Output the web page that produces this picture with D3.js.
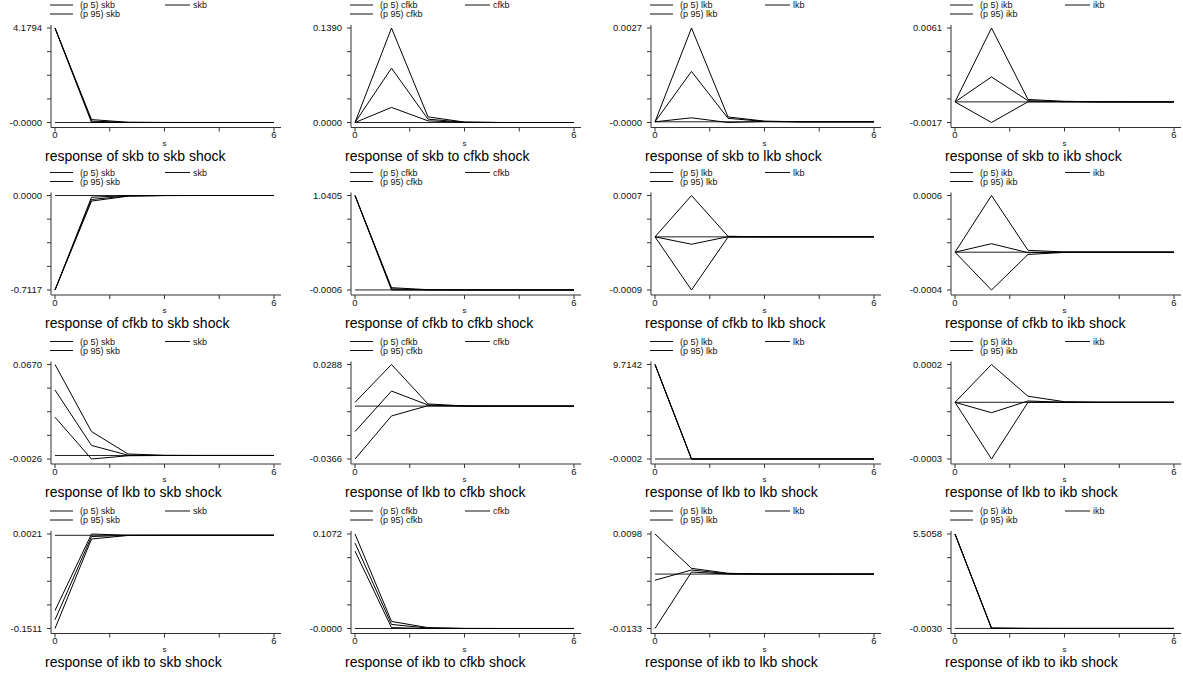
<!DOCTYPE html>
<html>
<head>
<meta charset="utf-8">
<script src="https://cdn.jsdelivr.net/npm/d3@7"></script>
<style>
  html, body { margin: 0; padding: 0; background: #fff; }
  svg { display: block; font-family: "Liberation Sans", Arial, sans-serif; }
</style>
</head>
<body>
<svg id="chart" width="1183" height="675"></svg>
<script>
// Impulse-response grid: rows = response variable, columns = impulse variable.
const steps = [0, 1, 2, 3, 4, 5, 6];
const variables = ["skb", "cfkb", "lkb", "ikb"];
const xTicks = [0, 1.5, 3, 4.5, 6];
const xTickLabels = ["0", "", "", "", "6"];

// Each array: one row per impulse (skb, cfkb, lkb, ikb), values for steps 0..6.
const p5_skb = [
  [4.1794, 0.005, -0.00001, 0, 0, 0, 0],
  [0, 0.0222, 0.0024, 0.0002, 0, 0, 0],
  [0, 0.000115, -0.00002, 0.00001, 0, 0, 0],
  [0, -0.0017, 0.00001, 0.00001, 0, 0, 0]
];
const irf_skb = [
  [4.1794, 0.06, 0.004, 0.0003, 0, 0, 0],
  [0, 0.0799, 0.0049, 0.0003, 0, 0, 0],
  [0, 0.00145, 0.0001, 0.00001, 0, 0, 0],
  [0, 0.00206, 0.0001, 0.00002, 0, 0, 0]
];
const p95_skb = [
  [4.1794, 0.13, 0.01, 0.0008, 0.0001, 0, 0],
  [0, 0.1390, 0.0083, 0.0006, 0, 0, 0],
  [0, 0.0027, 0.00014, 0.00002, 0, 0, 0],
  [0, 0.0061, 0.0002, 0.00005, 0.00001, 0, 0]
];

const p5_cfkb = [
  [-0.7117, -0.042, -0.005, -0.0005, 0, 0, 0],
  [1.0405, -0.0006, -0.0001, 0, 0, 0, 0],
  [0, -0.0009, -0.000005, 0, 0, 0, 0],
  [0, -0.0004, -0.000024, -0.000002, 0, 0, 0]
];
const irf_cfkb = [
  [-0.7117, -0.03, -0.003, -0.0003, 0, 0, 0],
  [1.0405, 0.012, 0.001, 0.0001, 0, 0, 0],
  [0, -0.000125, 0.000002, 0, 0, 0, 0],
  [0, 0.00009, -0.000005, 0, 0, 0, 0]
];
const p95_cfkb = [
  [-0.7117, -0.013, -0.001, -0.0001, 0, 0, 0],
  [1.0405, 0.025, 0.003, 0.0003, 0, 0, 0],
  [0, 0.0007, 0.00001, 0, 0, 0, 0],
  [0, 0.0006, 0.00002, 0.000002, 0, 0, 0]
];

const p5_lkb = [
  [0.0282, -0.0026, -0.0002, 0, 0, 0, 0],
  [-0.0366, -0.0068, 0.0003, 0, 0, 0, 0],
  [9.7142, -0.0002, 0, 0, 0, 0, 0],
  [0, -0.0003, 0, 0, 0, 0, 0]
];
const irf_lkb = [
  [0.0482, 0.0074, 0.0002, 0, 0, 0, 0],
  [-0.0176, 0.0104, 0.0008, 0.0001, 0, 0, 0],
  [9.7142, 0.0001, 0, 0, 0, 0, 0],
  [0, -0.000055, 0.000007, 0, 0, 0, 0]
];
const p95_lkb = [
  [0.0670, 0.0176, 0.0011, 0.0001, 0, 0, 0],
  [0.0026, 0.0288, 0.0015, 0.0001, 0, 0, 0],
  [9.7142, 0.0004, 0.00001, 0, 0, 0, 0],
  [0, 0.0002, 0.000032, 0.000003, 0, 0, 0]
];

const p5_ikb = [
  [-0.1511, -0.006, -0.0003, 0, 0, 0, 0],
  [0.0878, 0.001, -0.00001, 0, 0, 0, 0],
  [-0.0133, 0.0005, 0, 0, 0, 0, 0],
  [5.5058, -0.003, -0.0001, 0, 0, 0, 0]
];
const irf_ikb = [
  [-0.137, -0.002, -0.0001, 0, 0, 0, 0],
  [0.097, 0.0046, 0.0005, 0, 0, 0, 0],
  [-0.0015, 0.001, 0.0001, 0, 0, 0, 0],
  [5.5058, 0.01, 0.001, 0, 0, 0, 0]
];
const p95_ikb = [
  [-0.122, 0.0021, 0.0001, 0, 0, 0, 0],
  [0.1072, 0.008, 0.001, 0.0001, 0, 0, 0],
  [0.0098, 0.0014, 0.0002, 0, 0, 0, 0],
  [5.5058, 0.03, 0.002, 0, 0, 0, 0]
];

const lowerBands = { skb: p5_skb, cfkb: p5_cfkb, lkb: p5_lkb, ikb: p5_ikb };
const responses  = { skb: irf_skb, cfkb: irf_cfkb, lkb: irf_lkb, ikb: irf_ikb };
const upperBands = { skb: p95_skb, cfkb: p95_cfkb, lkb: p95_lkb, ikb: p95_ikb };

// Layout
const svg = d3.select("#chart");
const colWidth = 300;
const rowTops = [28, 195.5, 364.5, 534];
const plotLeft = 55, plotRight = 274, plotH = 94.5;
const axisX = 51, axisRight = 281;

const fmt = v => v.toFixed(4);

variables.forEach((resp, r) => {
  variables.forEach((imp, c) => {
    const ox = c * colWidth;
    const top = rowTops[r];
    const bottom = top + plotH;
    const axisY = bottom + 5;
    const g = svg.append("g");

    const lo = lowerBands[resp][c];
    const mid = responses[resp][c];
    const hi = upperBands[resp][c];

    const ext = d3.extent([...lo, ...mid, ...hi, 0]);
    const y = d3.scaleLinear().domain(ext).range([bottom, top]);
    const x = d3.scaleLinear().domain([0, 6]).range([ox + plotLeft, ox + plotRight]);

    // Legend
    const legY1 = top - 23, legY2 = top - 14;
    const legend = [
      { lx: ox + 50, ly: legY1, label: "(p 5) " + imp },
      { lx: ox + 165, ly: legY1, label: imp, wide: true },
      { lx: ox + 50, ly: legY2, label: "(p 95) " + imp }
    ];
    legend.forEach(d => {
      g.append("line")
        .attr("x1", d.lx).attr("x2", d.lx + (d.wide ? 25 : 23))
        .attr("y1", d.ly).attr("y2", d.ly)
        .attr("stroke", "#111").attr("stroke-width", 1);
      g.append("text")
        .attr("x", d.lx + (d.wide ? 28 : 30)).attr("y", d.ly + 3.3)
        .attr("font-size", 9).attr("fill", "#111")
        .text(d.label);
    });

    // Y axis
    const yTicks = d3.range(5).map(i => ext[0] + (ext[1] - ext[0]) * i / 4);
    g.append("line")
      .attr("x1", ox + axisX).attr("x2", ox + axisX)
      .attr("y1", top - 3).attr("y2", axisY)
      .attr("stroke", "#333").attr("stroke-width", 1);
    yTicks.forEach((t, i) => {
      g.append("line")
        .attr("x1", ox + axisX - 4).attr("x2", ox + axisX)
        .attr("y1", y(t)).attr("y2", y(t))
        .attr("stroke", "#333").attr("stroke-width", 1);
      if (i === 0 || i === 4) {
        g.append("text")
          .attr("x", ox + 42).attr("y", y(t) + 3.4)
          .attr("text-anchor", "end")
          .attr("font-size", 9.5).attr("fill", "#111")
          .text(fmt(t));
      }
    });

    // X axis
    g.append("line")
      .attr("x1", ox + axisX).attr("x2", ox + axisRight)
      .attr("y1", axisY).attr("y2", axisY)
      .attr("stroke", "#333").attr("stroke-width", 1);
    xTicks.forEach((t, i) => {
      g.append("line")
        .attr("x1", x(t)).attr("x2", x(t))
        .attr("y1", axisY).attr("y2", axisY + 4)
        .attr("stroke", "#333").attr("stroke-width", 1);
      if (xTickLabels[i]) {
        g.append("text")
          .attr("x", x(t)).attr("y", axisY + 10.5)
          .attr("text-anchor", "middle")
          .attr("font-size", 9.5).attr("fill", "#111")
          .text(xTickLabels[i]);
      }
    });
    g.append("text")
      .attr("x", x(3)).attr("y", axisY + 18)
      .attr("text-anchor", "middle")
      .attr("font-size", 8).attr("fill", "#111")
      .text("s");

    // Zero reference line
    g.append("line")
      .attr("x1", x(0)).attr("x2", x(6))
      .attr("y1", y(0)).attr("y2", y(0))
      .attr("stroke", "#222").attr("stroke-width", 1);

    // Response and percentile bands
    const line = d3.line().x((d, i) => x(steps[i])).y(d => y(d));
    [lo, mid, hi].forEach(series => {
      g.append("path")
        .attr("d", line(series))
        .attr("fill", "none")
        .attr("stroke", "#000")
        .attr("stroke-width", 1)
        .attr("stroke-linejoin", "miter");
    });

    // Panel caption
    g.append("text")
      .attr("x", ox + 45).attr("y", top + 132.5)
      .attr("font-size", 14).attr("fill", "#000")
      .text(`response of ${resp} to ${imp} shock`);
  });
});
</script>
</body>
</html>
